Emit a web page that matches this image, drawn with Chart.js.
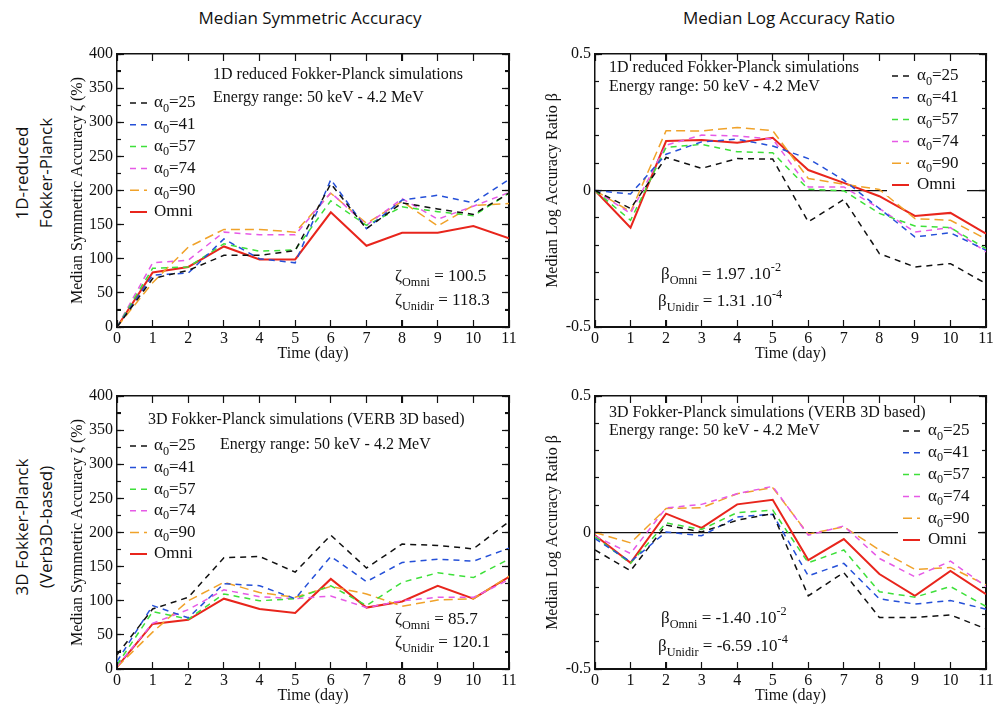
<!DOCTYPE html>
<html>
<head>
<meta charset="utf-8">
<title>Median accuracy metrics</title>
<script src="https://cdn.jsdelivr.net/npm/chart.js@4.4.1/dist/chart.umd.min.js"></script>
<style>
    html, body { margin: 0; padding: 0; background: #fff; }
    body { width: 1007px; height: 708px; position: relative; overflow: hidden; }
    .panel { position: absolute; }
    .heading {
        position: absolute; top: 17px; transform: translate(-50%, -50%);
        font-family: "Open Sans", sans-serif; font-size: 17px; color: #111; white-space: nowrap;
    }
    .rowlabel {
        position: absolute; transform: translate(-50%, -50%) rotate(-90deg);
        font-family: "Open Sans", sans-serif; font-size: 17px; line-height: 24px;
        color: #111; text-align: center; white-space: nowrap;
    }
    .frame { position: absolute; box-sizing: border-box; border: 1.5px solid #111; pointer-events: none; }
    .tick { position: absolute; background: #111; pointer-events: none; }
</style>
</head>
<body>
<div class="heading" style="left:310px">Median Symmetric Accuracy</div>
<div class="heading" style="left:789px">Median Log Accuracy Ratio</div>
<div class="rowlabel" style="left:34px; top:173px">1D-reduced<br>Fokker-Planck</div>
<div class="rowlabel" style="left:34px; top:527px">3D Fokker-Planck<br>(Verb3D-based)</div>

<canvas class="panel" id="msa1D" width="460" height="325" style="left:60px; top:40px"></canvas>
<canvas class="panel" id="mlar1D" width="465" height="325" style="left:535px; top:40px"></canvas>
<canvas class="panel" id="msa3D" width="460" height="325" style="left:60px; top:382px"></canvas>
<canvas class="panel" id="mlar3D" width="465" height="325" style="left:535px; top:382px"></canvas>

<script>
// ---- data ----
const days = [0, 1, 2, 3, 4, 5, 6, 7, 8, 9, 10, 11];
const alphas = ['25', '41', '57', '74', '90'];

// 1D reduced Fokker-Planck, median symmetric accuracy (%)
const msa1D_a25  = [0, 71, 83, 105, 105, 112, 210, 144, 182, 173, 165, 196];
const msa1D_a41  = [0, 76, 79, 129, 100, 94, 216, 144, 186, 193, 182, 216];
const msa1D_a57  = [0, 86, 88, 122, 111, 113, 185, 149, 176, 169, 163, 196];
const msa1D_a74  = [0, 94, 98, 139, 135, 135, 197, 149, 188, 158, 177, 197];
const msa1D_a90  = [0, 65, 117, 143, 143, 139, 196, 152, 184, 148, 178, 181];
const msa1D_omni = [0, 80, 88, 118, 99, 99, 168, 119, 138, 138, 148, 130];

// 1D reduced Fokker-Planck, median log accuracy ratio
const mlar1D_a25  = [0, -0.066, 0.121, 0.081, 0.117, 0.115, -0.115, -0.033, -0.231, -0.280, -0.268, -0.341];
const mlar1D_a41  = [0, -0.013, 0.133, 0.178, 0.188, 0.163, 0.117, 0.038, -0.066, -0.170, -0.155, -0.219];
const mlar1D_a57  = [0, -0.109, 0.158, 0.169, 0.142, 0.138, 0.005, -0.001, -0.084, -0.130, -0.136, -0.213];
const mlar1D_a74  = [0, -0.084, 0.166, 0.203, 0.200, 0.188, 0.013, 0.013, -0.066, -0.152, -0.136, -0.225];
const mlar1D_a90  = [0, -0.078, 0.219, 0.218, 0.231, 0.219, 0.044, 0.023, 0.004, -0.103, -0.109, -0.178];
const mlar1D_omni = [0, -0.136, 0.181, 0.185, 0.175, 0.193, 0.075, 0.028, -0.021, -0.093, -0.082, -0.158];

// 3D Fokker-Planck (VERB 3D), median symmetric accuracy (%)
const msa3D_a25  = [21, 88, 105, 163, 165, 142, 196, 148, 183, 181, 176, 216];
const msa3D_a41  = [11, 93, 75, 125, 122, 103, 165, 128, 156, 161, 158, 177];
const msa3D_a57  = [6, 84, 73, 110, 100, 103, 122, 93, 127, 141, 134, 161];
const msa3D_a74  = [4, 67, 87, 116, 106, 103, 107, 90, 100, 105, 105, 131];
const msa3D_a90  = [3, 54, 100, 127, 112, 105, 121, 110, 92, 101, 103, 136];
const msa3D_omni = [3, 66, 72, 103, 88, 82, 132, 90, 99, 122, 103, 135];

// 3D Fokker-Planck (VERB 3D), median log accuracy ratio
const mlar3D_a25  = [-0.064, -0.140, 0.027, 0.002, 0.045, 0.069, -0.232, -0.147, -0.311, -0.311, -0.302, -0.353];
const mlar3D_a41  = [-0.022, -0.107, 0.002, -0.012, 0.057, 0.067, -0.159, -0.113, -0.243, -0.262, -0.249, -0.281];
const mlar3D_a57  = [-0.016, -0.113, 0.035, 0.011, 0.073, 0.082, -0.111, -0.064, -0.217, -0.237, -0.198, -0.271];
const mlar3D_a74  = [-0.013, -0.077, 0.090, 0.103, 0.142, 0.169, -0.010, 0.024, -0.095, -0.162, -0.105, -0.198];
const mlar3D_a90  = [0, -0.038, 0.088, 0.091, 0.142, 0.164, -0.006, 0.021, -0.064, -0.135, -0.128, -0.192];
const mlar3D_omni = [-0.010, -0.111, 0.069, 0.017, 0.103, 0.120, -0.101, -0.024, -0.152, -0.232, -0.141, -0.226];

// ---- styling ----
const SERIF = '"Liberation Serif", "DejaVu Serif", serif';
const INK = '#111111';
const lineColors = ['#111111', '#2550d8', '#3ee03a', '#e65ae6', '#f0a22a', '#e8251c'];
const lineDashes = [[6, 5], [6, 5], [6, 5], [6, 5], [9, 5], []];
const legendLabels = alphas.map(a => 'α_{0}=' + a).concat(['Omni']);

// draws text with _{sub} and ^{sup} pieces
function drawRich(ctx, x, y, text, size) {
    const parts = text.split(/(_\{[^}]*\}|\^\{[^}]*\})/).filter(p => p.length);
    let cx = x;
    ctx.textAlign = 'left';
    ctx.textBaseline = 'middle';
    for (const p of parts) {
        let t = p, s = size, dy = 0;
        if (p.startsWith('_{')) { t = p.slice(2, -1); s = size * 0.72; dy = size * 0.32; }
        else if (p.startsWith('^{')) { t = p.slice(2, -1); s = size * 0.72; dy = -size * 0.4; }
        ctx.font = s + 'px ' + SERIF;
        ctx.fillText(t, cx, y + dy);
        cx += ctx.measureText(t).width;
    }
    return cx;
}

// in-plot legend and text notes
const notesPlugin = {
    id: 'notes',
    afterDatasetsDraw(chart, args, opts) {
        const { ctx, chartArea: a } = chart;
        const lg = opts.legend;
        const sets = chart.data.datasets;
        ctx.save();
        if (lg.bg) {
            ctx.fillStyle = '#fff';
            ctx.fillRect(a.left + lg.lineX - 5, a.top + lg.y0 - 11, lg.textX - lg.lineX + 55, lg.rowH * (sets.length - 1) + 22);
        }
        sets.forEach((ds, i) => {
            const ry = a.top + lg.y0 + i * lg.rowH;
            ctx.strokeStyle = ds.borderColor;
            ctx.lineWidth = ds.borderWidth;
            ctx.setLineDash(ds.borderDash);
            ctx.beginPath();
            ctx.moveTo(a.left + lg.lineX, ry);
            ctx.lineTo(a.left + lg.lineX + 17, ry);
            ctx.stroke();
            ctx.setLineDash([]);
            ctx.fillStyle = '#111';
            drawRich(ctx, a.left + lg.textX, ry, ds.label, 17);
        });
        ctx.fillStyle = '#111';
        opts.notes.forEach(nt => drawRich(ctx, a.left + nt.x, a.top + nt.y, nt.text, nt.size || 16));
        ctx.restore();
    }
};

// an unlabeled, zero-size axis that only carries tick positions (and its own frame side)
function tickAxis(position, min, max, step, len, withBorder) {
    return {
        type: 'linear', position, min, max, weight: 0,
        ticks: { display: false, stepSize: step },
        grid: { display: true, drawOnChartArea: false, drawTicks: true, tickLength: -len, tickColor: INK, tickWidth: 1.2 },
        border: { display: withBorder, color: INK, width: 1.5 },
        afterFit(s) { if (s.isHorizontal()) s.height = 0; else s.width = 0; }
    };
}

// overlay the plot frame and inward tick marks on the page, placed from the chart's scales
function addFrame(chart) {
    const cv = chart.canvas;
    const a = chart.chartArea;
    const ox = cv.offsetLeft, oy = cv.offsetTop;
    const frame = document.createElement('div');
    frame.className = 'frame';
    frame.style.left = (ox + a.left - 0.75) + 'px';
    frame.style.top = (oy + a.top - 0.75) + 'px';
    frame.style.width = (a.right - a.left + 1.5) + 'px';
    frame.style.height = (a.bottom - a.top + 1.5) + 'px';
    document.body.appendChild(frame);

    function tick(x, y, w, h) {
        const t = document.createElement('div');
        t.className = 'tick';
        t.style.left = (ox + x) + 'px';
        t.style.top = (oy + y) + 'px';
        t.style.width = w + 'px';
        t.style.height = h + 'px';
        document.body.appendChild(t);
    }
    const xs = chart.scales.xTicks;
    xs.ticks.forEach(t => {
        const px = xs.getPixelForValue(t.value);
        tick(px - 0.6, a.bottom - 7, 1.2, 7);
        tick(px - 0.6, a.top, 1.2, 7);
    });
    const ySides = [['yTicks', 7], ['yMinor', 4]];
    ySides.forEach(([id, len]) => {
        const s = chart.scales[id];
        s.ticks.forEach(t => {
            const py = s.getPixelForValue(t.value);
            if (py <= a.top + 1 || py >= a.bottom - 1) return;
            tick(a.left, py - 0.6, len, 1.2);
            tick(a.right - len, py - 0.6, len, 1.2);
        });
    });
}

function buildPanel(id, series, yOpts, noteOpts) {
    const datasets = series.map((vals, i) => ({
        label: legendLabels[i],
        data: vals.map((v, k) => ({ x: days[k], y: v })),
        xAxisID: 'x',
        yAxisID: 'y',
        borderColor: lineColors[i],
        borderDash: lineDashes[i],
        borderWidth: i === 5 ? 2 : 1.5,
        pointRadius: 0,
        fill: false,
        tension: 0
    }));

    const tickFont = { family: SERIF, size: 16 };
    const chart = new Chart(document.getElementById(id), {
        type: 'line',
        data: { datasets },
        options: {
            responsive: false,
            animation: false,
            layout: { padding: { top: 14, right: yOpts.padRight, left: 0, bottom: 0 } },
            plugins: {
                legend: { display: false },
                tooltip: { enabled: false },
                notes: noteOpts
            },
            scales: {
                x: {
                    type: 'linear', position: 'bottom', min: 0, max: 11, weight: 1,
                    ticks: { stepSize: 1, padding: 2, color: '#111', font: tickFont },
                    grid: { display: false, drawTicks: false },
                    border: { display: false },
                    title: { display: true, text: 'Time (day)', color: '#111', font: tickFont, padding: { top: 0, bottom: 2 } },
                    afterFit(s) { s.height = 38; }
                },
                xTicks: tickAxis('bottom', 0, 11, 1, 7, true),
                xTop: tickAxis('top', 0, 11, 1, 7, true),
                y: {
                    type: 'linear', position: 'left', min: yOpts.min, max: yOpts.max, weight: 1,
                    ticks: { stepSize: yOpts.step, padding: 4, color: '#111', font: tickFont },
                    grid: {
                        display: true, drawOnChartArea: true, drawTicks: false, lineWidth: 1.3,
                        color: c => (yOpts.zeroLine && c.tick && c.tick.value === 0) ? '#111' : 'rgba(0,0,0,0)'
                    },
                    border: { display: false },
                    title: { display: true, text: yOpts.title, color: '#111', font: { family: SERIF, size: 16 }, padding: { top: 8, bottom: 0 } },
                    afterFit(s) { s.width = yOpts.axisWidth; }
                },
                yTicks: tickAxis('left', yOpts.min, yOpts.max, yOpts.step, 7, true),
                yMinor: tickAxis('left', yOpts.min, yOpts.max, yOpts.minor, 4, false),
                yRight: tickAxis('right', yOpts.min, yOpts.max, yOpts.step, 7, true),
                yRightMinor: tickAxis('right', yOpts.min, yOpts.max, yOpts.minor, 4, false)
            }
        },
        plugins: [notesPlugin]
    });
    addFrame(chart);
}

const msaAxis = { min: 0, max: 400, step: 50, minor: 25, zeroLine: false, title: 'Median Symmetric Accuracy ζ (%)', axisWidth: 57, padRight: 11 };
const mlarAxis = { min: -0.5, max: 0.5, step: 0.5, minor: 0.1, zeroLine: true, title: 'Median Log Accuracy Ratio β', axisWidth: 60, padRight: 14 };

buildPanel('msa1D', [msa1D_a25, msa1D_a41, msa1D_a57, msa1D_a74, msa1D_a90, msa1D_omni], msaAxis, {
    legend: { lineX: 13, textX: 37, y0: 49, rowH: 21.8, bg: false },
    notes: [
        { x: 96, y: 21, text: '1D reduced Fokker-Planck simulations' },
        { x: 96, y: 44, text: 'Energy range: 50 keV - 4.2 MeV' },
        { x: 278, y: 223, text: 'ζ_{Omni} = 100.5', size: 17 },
        { x: 278, y: 247, text: 'ζ_{Unidir} = 118.3', size: 17 }
    ]
});

buildPanel('mlar1D', [mlar1D_a25, mlar1D_a41, mlar1D_a57, mlar1D_a74, mlar1D_a90, mlar1D_omni], mlarAxis, {
    legend: { lineX: 297, textX: 322, y0: 22, rowH: 21.8, bg: true },
    notes: [
        { x: 14, y: 14, text: '1D reduced Fokker-Planck simulations' },
        { x: 14, y: 33, text: 'Energy range: 50 keV - 4.2 MeV' },
        { x: 66, y: 221, text: 'β_{Omni} = 1.97 .10^{-2}', size: 17 },
        { x: 63, y: 248, text: 'β_{Unidir} = 1.31 .10^{-4}', size: 17 }
    ]
});

buildPanel('msa3D', [msa3D_a25, msa3D_a41, msa3D_a57, msa3D_a74, msa3D_a90, msa3D_omni], msaAxis, {
    legend: { lineX: 13, textX: 37, y0: 50, rowH: 21.6, bg: false },
    notes: [
        { x: 31, y: 24, text: '3D Fokker-Planck simulations (VERB 3D based)' },
        { x: 103, y: 49, text: 'Energy range: 50 keV - 4.2 MeV' },
        { x: 278, y: 224, text: 'ζ_{Omni} = 85.7', size: 17 },
        { x: 278, y: 247, text: 'ζ_{Unidir} = 120.1', size: 17 }
    ]
});

buildPanel('mlar3D', [mlar3D_a25, mlar3D_a41, mlar3D_a57, mlar3D_a74, mlar3D_a90, mlar3D_omni], mlarAxis, {
    legend: { lineX: 308, textX: 333, y0: 35, rowH: 21.8, bg: true },
    notes: [
        { x: 14, y: 17, text: '3D Fokker-Planck simulations (VERB 3D based)' },
        { x: 14, y: 35, text: 'Energy range: 50 keV - 4.2 MeV' },
        { x: 66, y: 223, text: 'β_{Omni} = -1.40 .10^{-2}', size: 17 },
        { x: 63, y: 251, text: 'β_{Unidir} = -6.59 .10^{-4}', size: 17 }
    ]
});
</script>
</body>
</html>
